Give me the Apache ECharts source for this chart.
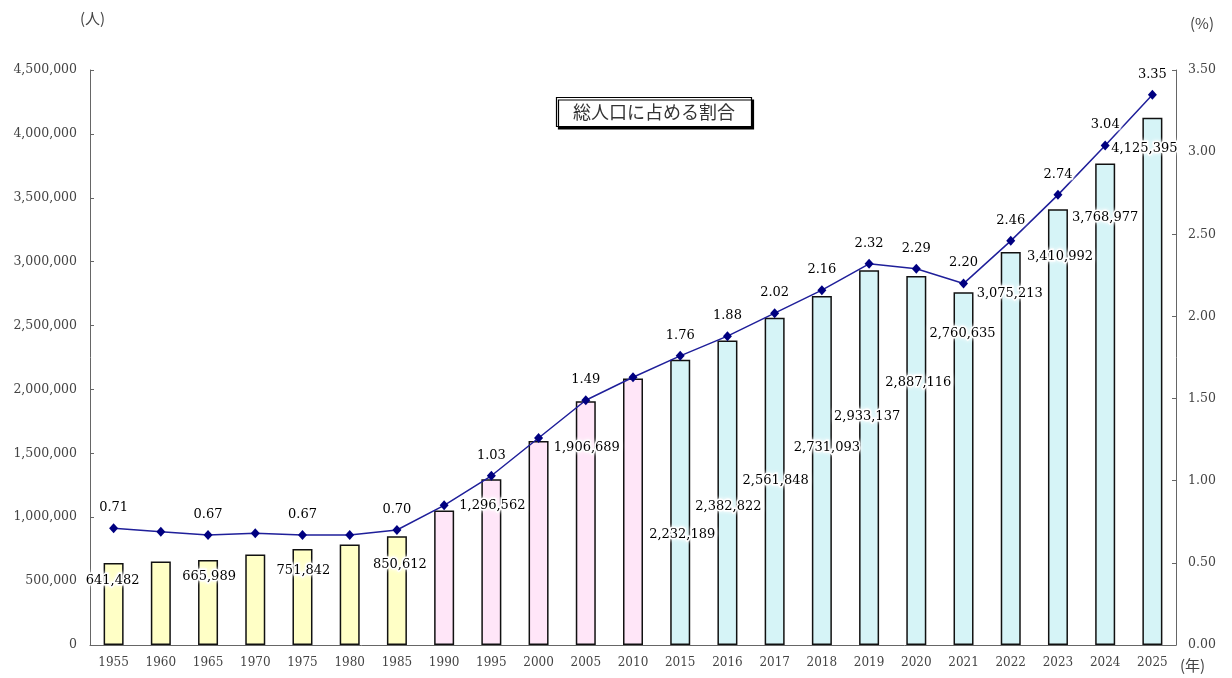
<!DOCTYPE html>
<html>
<head>
<meta charset="utf-8">
<script src="https://cdn.jsdelivr.net/npm/echarts@6/dist/echarts.min.js"></script>
<style>
  html, body { margin: 0; padding: 0; background: #fff; }
  #chart { width: 1232px; height: 678px; }
</style>
</head>
<body>
<div id="chart"></div>
<script>
// Years on the category axis
const years = ['1955', '1960', '1965', '1970', '1975', '1980', '1985', '1990', '1995', '2000', '2005', '2010',
  '2015', '2016', '2017', '2018', '2019', '2020', '2021', '2022', '2023', '2024', '2025'];

// Resident population (persons), left axis
const population = [641482, 654000, 665989, 709000, 751842, 787000, 850612, 1052000, 1296562, 1596000, 1906689, 2086000,
  2232189, 2382822, 2561848, 2731093, 2933137, 2887116, 2760635, 3075213, 3410992, 3768977, 4125395];

// Share of the total population (%), right axis
const shareOfTotal = [0.71, 0.69, 0.67, 0.68, 0.67, 0.67, 0.70, 0.85, 1.03, 1.26, 1.49, 1.63,
  1.76, 1.88, 2.02, 2.16, 2.32, 2.29, 2.20, 2.46, 2.74, 3.04, 3.35];

// Years whose values are printed on the chart
const labelledYears = ['1955', '1965', '1975', '1985', '1995', '2005',
  '2015', '2016', '2017', '2018', '2019', '2020', '2021', '2022', '2023', '2024', '2025'];

// Axis ranges
const populationAxis = { min: 0, max: 4500000, interval: 500000 };
const shareAxis = { min: 0, max: 3.5, interval: 0.5 };

// Where each bar's value label sits: [horizontal shift, distance below the bar top] in px
const barLabelPlacement = {
  '1955': [-1, 18], '1965': [1, 17], '1975': [1, 22], '1985': [3, 28], '1995': [1, 26], '2005': [1, 46],
  '2015': [2, 175], '2016': [1, 166], '2017': [1, 163], '2018': [5, 152], '2019': [-2, 146], '2020': [2, 107],
  '2021': [-1, 41], '2022': [-1, 42], '2023': [2, 47], '2024': [0, 54], '2025': [-8, 31]
};

// Bar fill by period
function periodColor(year) {
  const y = Number(year);
  if (y <= 1985) return '#FFFFC6';
  if (y <= 2010) return '#FFE6F8';
  return '#D6F4F7';
}

const numFont = 'DejaVu Serif';
const cjkFont = 'Noto Sans CJK JP';

const haloLabel = {
  color: '#000',
  fontFamily: numFont,
  fontSize: 13,
  textBorderColor: '#fff',
  textBorderWidth: 3,
  textShadowColor: '#fff',
  textShadowBlur: 4
};

const barData = population.map((v, i) => {
  const year = years[i];
  const place = barLabelPlacement[year];
  const item = { value: v, itemStyle: { color: periodColor(year) } };
  if (place) {
    item.label = Object.assign({
      show: true,
      position: ['50%', place[1]],
      offset: [place[0], 0],
      align: 'center',
      verticalAlign: 'middle',
      formatter: p => p.value.toLocaleString('en-US')
    }, haloLabel);
  }
  return item;
});

const lineData = shareOfTotal.map((v, i) => {
  const item = { value: v };
  if (labelledYears.includes(years[i])) {
    item.label = Object.assign({
      show: true,
      position: 'top',
      distance: 9,
      formatter: p => p.value.toFixed(2)
    }, haloLabel);
  }
  return item;
});

const axisGray = '#666';
const tickText = { color: '#444', fontFamily: numFont, fontSize: 12 };

const chart = echarts.init(document.getElementById('chart'), null, { renderer: 'canvas' });

chart.setOption({
  animation: false,
  backgroundColor: '#fff',
  title: {
    text: '総人口に占める割合',
    left: 556,
    top: 97,
    padding: [6, 17],
    backgroundColor: '#fff',
    borderColor: '#000',
    borderWidth: 1.2,
    shadowColor: '#000',
    shadowBlur: 0,
    shadowOffsetX: 2,
    shadowOffsetY: 2.5,
    textStyle: { fontFamily: cjkFont, fontSize: 18, fontWeight: 'normal', color: '#333' }
  },
  grid: { left: 90, right: 56, top: 70, bottom: 33, containLabel: false },
  xAxis: {
    type: 'category',
    data: years,
    boundaryGap: true,
    axisLine: { lineStyle: { color: axisGray, width: 1 } },
    axisTick: { inside: true, length: 4, lineStyle: { color: axisGray } },
    axisLabel: Object.assign({ margin: 12, interval: 0 }, tickText),
    splitLine: { show: false }
  },
  yAxis: [
    {
      type: 'value',
      min: populationAxis.min,
      max: populationAxis.max,
      interval: populationAxis.interval,
      axisLine: { show: true, lineStyle: { color: axisGray } },
      axisTick: { show: true, inside: true, length: 4, lineStyle: { color: axisGray } },
      axisLabel: Object.assign({
        margin: 13,
        formatter: v => v.toLocaleString('en-US')
      }, tickText, { fontSize: 12.5 }),
      splitLine: { show: false }
    },
    {
      type: 'value',
      position: 'right',
      min: shareAxis.min,
      max: shareAxis.max,
      interval: shareAxis.interval,
      axisLine: { show: true, lineStyle: { color: axisGray } },
      axisTick: { show: true, inside: true, length: 4, lineStyle: { color: axisGray } },
      axisLabel: Object.assign({
        margin: 12,
        formatter: v => v.toFixed(2)
      }, tickText, { fontSize: 12.5 }),
      splitLine: { show: false }
    }
  ],
  graphic: [
    { type: 'text', left: 80, top: 11, style: { text: '(人)', font: '15px "' + cjkFont + '"', fill: '#444' } },
    { type: 'text', left: 1190, top: 16, style: { text: '(%)', font: '15px "' + cjkFont + '"', fill: '#444' } },
    { type: 'text', left: 1180, top: 658, style: { text: '(年)', font: '15px "' + cjkFont + '"', fill: '#444' } }
  ],
  series: [
    {
      name: '人口',
      type: 'bar',
      yAxisIndex: 0,
      data: barData,
      barWidth: 20,
      itemStyle: { borderColor: '#111', borderWidth: 1.5 },
      z: 2
    },
    {
      name: '総人口に占める割合',
      type: 'line',
      yAxisIndex: 1,
      data: lineData,
      symbol: 'diamond',
      symbolSize: [9, 10],
      lineStyle: { color: '#1F1F9A', width: 1.5 },
      itemStyle: { color: '#000080' },
      z: 3
    }
  ]
});
</script>
</body>
</html>
